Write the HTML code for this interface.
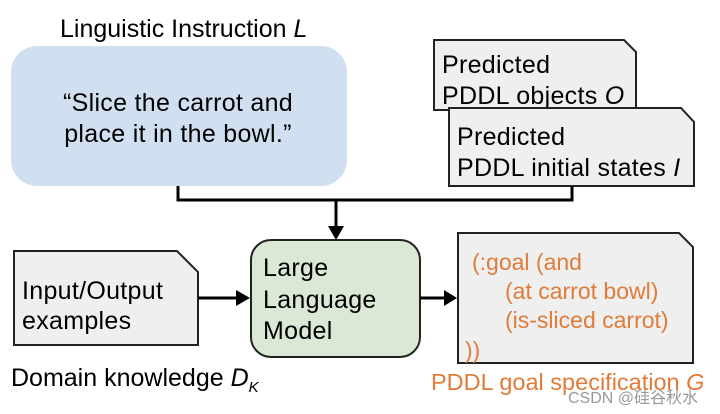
<!DOCTYPE html>
<html><head><meta charset="utf-8"><style>
body{margin:0;background:#fff}
svg{display:block}
text{font-family:"Liberation Sans",Arial,sans-serif;font-size:25px;fill:#000;letter-spacing:0.3px}
</style></head><body>
<svg width="720" height="414" viewBox="0 0 720 414">
<text x="60" y="37" style="letter-spacing:0">Linguistic Instruction <tspan font-style="italic">L</tspan></text>
<rect x="11" y="46" width="336" height="140" rx="26" fill="#d0e0f0"/>
<text x="178" y="111" text-anchor="middle">“Slice the carrot and</text>
<text x="178" y="142" text-anchor="middle">place it in the bowl.”</text>
<path d="M434 40H624L636 52V110H434Z" fill="#efefef" stroke="#222" stroke-width="2"/>
<text x="442" y="73">Predicted</text>
<text x="442" y="104">PDDL objects <tspan font-style="italic">O</tspan></text>
<path d="M449 108H681L694 122V186H449Z" fill="#efefef" stroke="#222" stroke-width="2"/>
<text x="457" y="145">Predicted</text>
<text x="457" y="176">PDDL initial states <tspan font-style="italic">I</tspan></text>
<path d="M178 186V200H572V186" fill="none" stroke="#000" stroke-width="3"/>
<path d="M336 200V228" stroke="#000" stroke-width="3"/>
<path d="M328 226L344 226L336 240Z" fill="#000"/>
<rect x="251" y="240" width="169" height="117" rx="20" fill="#dbe8d6" stroke="#222" stroke-width="2"/>
<text x="263" y="276">Large</text>
<text x="263" y="308">Language</text>
<text x="263" y="339">Model</text>
<path d="M14 251H177L198 272V345H14Z" fill="#efefef" stroke="#222" stroke-width="2"/>
<text x="22" y="299">Input/Output</text>
<text x="22" y="329">examples</text>
<path d="M198 298H238" stroke="#000" stroke-width="3"/>
<path d="M236 290L250 298L236 306Z" fill="#000"/>
<path d="M420 298H446" stroke="#000" stroke-width="3"/>
<path d="M444 290L457 298L444 306Z" fill="#000"/>
<path d="M458 233H679L693 247V363H458Z" fill="#efefef" stroke="#222" stroke-width="2"/>
<g style="font-size:23px">
<text x="472" y="270" style="fill:#e07b39;letter-spacing:0;font-size:23px">(:goal (and</text>
<text x="505" y="299" style="fill:#e07b39;letter-spacing:0;font-size:23px">(at carrot bowl)</text>
<text x="505" y="328" style="fill:#e07b39;letter-spacing:0;font-size:23px">(is-sliced carrot)</text>
<text x="465" y="358" style="fill:#e07b39;letter-spacing:0;font-size:23px">))</text>
</g>
<text x="431" y="390" style="fill:#e07b39;letter-spacing:0;font-size:23.5px">PDDL goal specification <tspan font-style="italic">G</tspan></text>
<text x="11" y="386" style="letter-spacing:0">Domain knowledge <tspan font-style="italic">D</tspan><tspan font-style="italic" font-size="15" dy="6">K</tspan></text>
<text x="568" y="403" style="font-size:16px;letter-spacing:0;fill:#999;font-family:'Liberation Sans','Noto Sans CJK SC',sans-serif">CSDN @硅谷秋水</text>
</svg>
</body></html>
